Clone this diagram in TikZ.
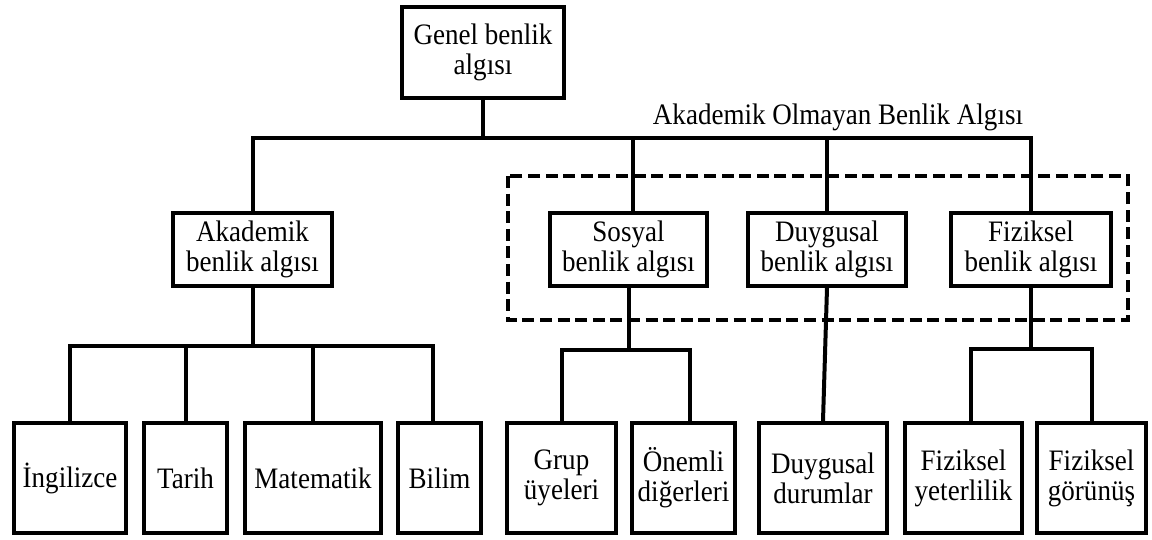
\documentclass[tikz,border=0pt]{standalone}
\usepackage{fontspec}
\setmainfont{Liberation Serif}[FakeStretch=0.91]
\usepackage{tikz}

\begin{document}
\begin{tikzpicture}[x=0.5pt,y=-0.5pt,
  every node/.style={font=\fontsize{14.85}{15}\selectfont},
  box/.style={draw,line width=2pt,align=center,inner sep=0pt},
  conn/.style={black,line width=2pt},
  frame/.style={black,line width=1.8pt,dash pattern=on 6pt off 2.8pt}]

\useasboundingbox (0,0) rectangle (1152,540);

\node[box,minimum width=81pt,minimum height=45.5pt] (gen) at (483,52.5) {Genel benlik\\algısı};

\node[box,minimum width=79.5pt,minimum height=36.5pt] (akad) at (252.5,249.5) {Akademik\\benlik algısı};
\node[box,minimum width=78.5pt,minimum height=36.5pt] (sos) at (628.5,249.5) {Sosyal\\benlik algısı};
\node[box,minimum width=79pt,minimum height=36.5pt] (duyg) at (827,249.5) {Duygusal\\benlik algısı};
\node[box,minimum width=80pt,minimum height=36.5pt] (fiz) at (1031,249.5) {Fiziksel\\benlik algısı};

\node[box,minimum width=56pt,minimum height=55pt] (ing) at (70,478) {İngilizce};
\node[box,minimum width=41.5pt,minimum height=55pt] (tar) at (185.5,478) {Tarih};
\node[box,minimum width=68pt,minimum height=55pt] (mat) at (313,478) {Matematik};
\node[box,minimum width=41.5pt,minimum height=55pt] (bil) at (439.5,478) {Bilim};
\node[box,minimum width=54.5pt,minimum height=55pt] (grup) at (561.5,478) {Grup\\üyeleri};
\node[box,minimum width=51.5pt,minimum height=55pt] (onem) at (683.5,478) {Önemli\\diğerleri};
\node[box,minimum width=64pt,minimum height=55pt] (duyd) at (823,478) {Duygusal\\durumlar};
\node[box,minimum width=58.5pt,minimum height=55pt] (fyet) at (963.5,478) {Fiziksel\\yeterlilik};
\node[box,minimum width=54.5pt,minimum height=55pt] (fgor) at (1091.5,478) {Fiziksel\\görünüş};

\node (lbl) at (838,117) {Akademik Olmayan Benlik Algısı};

\draw [frame] (508,176) rectangle (1128,320);

% top level
\coordinate (b1) at (483,138);
\draw [conn] (gen.south) -- (b1);
\draw [conn] (akad.north) |- (b1) -| (fiz.north);
\draw [conn] ([xshift=2pt]sos.north) -- ([xshift=2pt]sos.north |- b1);
\draw [conn] (duyg.north) -- (duyg.north |- b1);

% akademik
\coordinate (b2) at (252.5,346);
\draw [conn] (akad.south) -- (b2);
\draw [conn] (ing.north) |- (b2) -| ([xshift=-3.5pt]bil.north);
\draw [conn] (tar.north) -- (tar.north |- b2);
\draw [conn] (mat.north) -- (mat.north |- b2);

% sosyal
\coordinate (b3) at (628.5,350);
\draw [conn] (sos.south) -- (b3);
\draw [conn] (grup.north) |- (b3) -| ([xshift=3pt]onem.north);

% duygusal
\draw [conn] (duyg.south) -- (duyd.north);

% fiziksel
\coordinate (b4) at (1031,349);
\draw [conn] (fiz.south) -- (b4);
\draw [conn] ([xshift=3.5pt]fyet.north) |- (b4) -| (fgor.north);

\end{tikzpicture}
\end{document}
